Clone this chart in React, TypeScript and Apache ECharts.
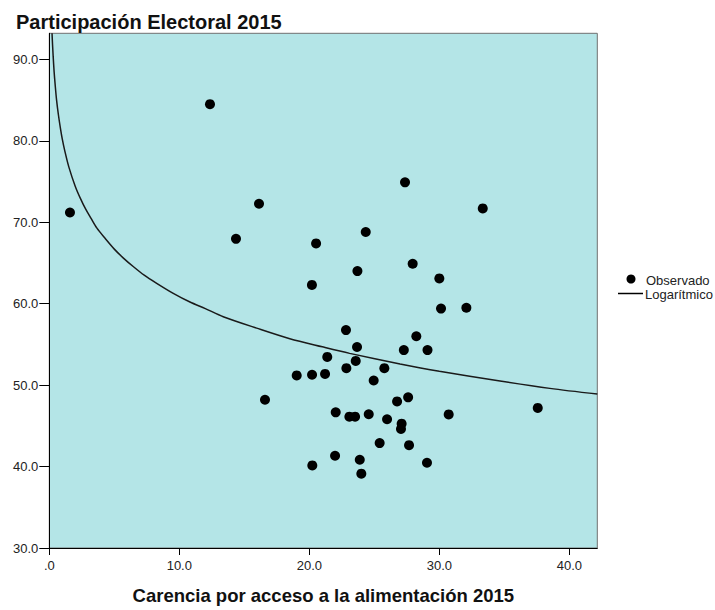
import React, { useEffect, useRef } from "react";
import * as echarts from "echarts";

const FONT = "'Liberation Sans', Arial, sans-serif";

// Observed points (Carencia por acceso a la alimentación 2015, Participación Electoral 2015)
const obsX = [
  1.59, 12.36, 14.36, 16.13, 27.36, 20.52, 24.34, 27.95, 23.7, 20.2,
  33.34, 30.0, 30.13, 32.08, 28.23, 27.27, 29.09, 27.6, 37.57, 30.72,
  22.82, 23.67, 21.38, 23.57, 22.85, 25.77, 19.03, 20.21, 21.21, 24.95,
  16.59, 26.75, 22.03, 23.08, 23.52, 24.57, 25.98, 27.1, 27.05, 25.41,
  27.67, 21.98, 20.23, 23.88, 29.05, 24.0,
];
const obsY = [
  71.2, 84.5, 67.96, 72.27, 74.9, 67.4, 68.8, 64.9, 64.0, 62.3,
  71.7, 63.1, 59.4, 59.5, 56.0, 54.3, 54.3, 48.5, 47.2, 46.4,
  56.76, 54.68, 53.46, 52.97, 52.08, 52.08, 51.19, 51.27, 51.38, 50.57,
  48.2, 48.0, 46.66, 46.13, 46.13, 46.42, 45.81, 45.27, 44.62, 42.88,
  42.63, 41.33, 40.14, 40.84, 40.47, 39.13,
];

// Logarithmic fit curve
const curveX = [0.21, 0.25, 0.3, 0.37, 0.45, 0.56, 0.7, 0.85, 1.0, 1.2, 1.5, 2.0, 2.4, 2.8, 3.2, 3.65, 4.3, 5.0, 5.7, 6.5, 7.3, 8.26, 9.5, 10.82, 12.0, 13.38, 15.95, 18.5, 21.0, 23.1, 26.98, 30.0, 34.67, 38.5, 42.15];
const curveY = [93.2, 91.8, 90.3, 88.5, 86.9, 85.0, 83.2, 81.6, 80.2, 78.7, 76.8, 74.4, 72.9, 71.6, 70.5, 69.3, 68.0, 66.7, 65.6, 64.5, 63.5, 62.5, 61.3, 60.2, 59.4, 58.4, 57.0, 55.7, 54.7, 53.9, 52.6, 51.7, 50.5, 49.6, 48.9];

const xTicks = { min: 0, max: 42.15, interval: 10 };
const yTicks = { min: 30, max: 93.2, interval: 10 };

const TITLE = "Participación Electoral 2015";
const X_NAME = "Carencia por acceso a la alimentación 2015";
const LEGEND = ["Observado", "Logarítmico"];

const fmt = (v: number) => (v === 0 ? ".0" : v.toFixed(1));

export default function App() {
  const ref = useRef<HTMLDivElement>(null);
  useEffect(() => {
    document.body.style.margin = "0";
    if (!ref.current) return;
    const chart = echarts.init(ref.current, null, { renderer: "svg" });
    const obs = obsX.map((x, i) => [x, obsY[i]]);
    const curve = curveX.map((x, i) => [x, curveY[i]]);
    chart.setOption({
      animation: false,
      backgroundColor: "#ffffff",
      textStyle: { fontFamily: FONT },
      title: {
        text: TITLE,
        left: 11,
        top: 7,
        textStyle: { fontSize: 20, fontWeight: "bold", color: "#111", fontFamily: FONT },
      },
      grid: {
        left: 49.3,
        right: 117.7,
        top: 33.3,
        bottom: 59.3,
        show: true,
        backgroundColor: "#b4e5e7",
        borderColor: "#707070",
        borderWidth: 1,
      },
      xAxis: {
        type: "value",
        min: xTicks.min,
        max: xTicks.max,
        interval: xTicks.interval,
        name: X_NAME,
        nameLocation: "middle",
        nameGap: 38,
        nameTextStyle: { fontSize: 18.5, fontWeight: "bold", color: "#111", fontFamily: FONT },
        axisLine: { show: true, onZero: false, lineStyle: { color: "#000", width: 1 } },
        axisTick: { show: true, length: 7, lineStyle: { color: "#000" } },
        axisLabel: { margin: 11, fontSize: 13, color: "#222", formatter: fmt, showMaxLabel: false, fontFamily: FONT },
        splitLine: { show: false },
      },
      yAxis: {
        type: "value",
        min: yTicks.min,
        max: yTicks.max,
        interval: yTicks.interval,
        axisLine: { show: true, onZero: false, lineStyle: { color: "#000", width: 1 } },
        axisTick: { show: true, length: 10, lineStyle: { color: "#000" } },
        axisLabel: { margin: 11, fontSize: 13, color: "#222", formatter: fmt, showMaxLabel: false, fontFamily: FONT },
        splitLine: { show: false },
      },
      series: [
        {
          type: "scatter",
          name: LEGEND[0],
          data: obs,
          symbol: "circle",
          symbolSize: 10,
          itemStyle: { color: "#000", opacity: 1 },
        },
        {
          type: "line",
          name: LEGEND[1],
          data: curve,
          showSymbol: false,
          smooth: 0.3,
          lineStyle: { color: "#1a1a1a", width: 1.5 },
        },
      ],
      graphic: [
        { type: "circle", shape: { cx: 631, cy: 279, r: 4.5 }, style: { fill: "#000" } },
        { type: "line", shape: { x1: 618, y1: 293.5, x2: 643, y2: 293.5 }, style: { stroke: "#000", lineWidth: 1.5 } },
        {
          type: "text",
          x: 646,
          y: 280,
          style: { text: LEGEND[0], fontSize: 13, fill: "#222", verticalAlign: "middle", fontFamily: FONT },
        },
        {
          type: "text",
          x: 645,
          y: 294,
          style: { text: LEGEND[1], fontSize: 13, fill: "#222", verticalAlign: "middle", fontFamily: FONT },
        },
      ],
    });
    return () => chart.dispose();
  }, []);
  return <div ref={ref} style={{ width: 715, height: 610 }} />;
}
